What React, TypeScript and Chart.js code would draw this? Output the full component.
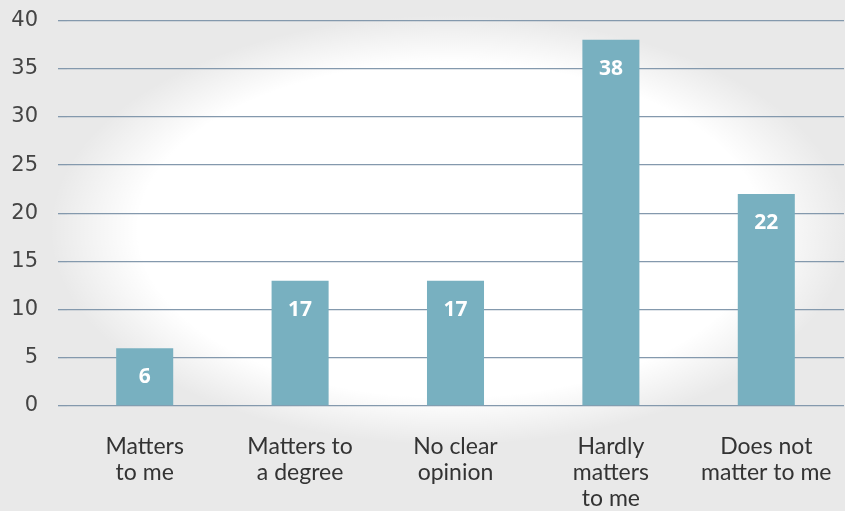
import React, { useEffect, useRef } from "react";
import { Chart, registerables } from "chart.js";

Chart.register(...registerables);

const categories: string[][] = [
  ["Matters", "to me"],
  ["Matters to", "a degree"],
  ["No clear", "opinion"],
  ["Hardly", "matters", "to me"],
  ["Does not", "matter to me"],
];
const barHeights = [6, 13, 13, 38, 22];
const valueLabels = ["6", "17", "17", "38", "22"];
const yTicks = [0, 5, 10, 15, 20, 25, 30, 35, 40];

const valuePlugin = {
  id: "valueLabels",
  afterDatasetsDraw(chart: any) {
    const ctx = chart.ctx;
    const meta = chart.getDatasetMeta(0);
    ctx.save();
    ctx.fillStyle = "#ffffff";
    ctx.font = "bold 21px 'Open Sans'";
    ctx.textAlign = "center";
    ctx.textBaseline = "middle";
    meta.data.forEach((bar: any, i: number) => {
      ctx.fillText(valueLabels[i], bar.x, bar.y + 29);
    });
    ctx.restore();
  },
};

export default function App() {
  const ref = useRef<HTMLCanvasElement>(null);
  useEffect(() => {
    if (!ref.current) return;
    const chart = new Chart(ref.current, {
      type: "bar",
      data: {
        labels: categories,
        datasets: [
          {
            data: barHeights,
            backgroundColor: "#78b0c0",
            categoryPercentage: 1,
            barPercentage: 0.367,
          },
        ],
      },
      options: {
        animation: false,
        responsive: false,
        maintainAspectRatio: false,
        layout: { padding: { top: 0, right: 1, left: 0, bottom: 0 } },
        plugins: { legend: { display: false }, tooltip: { enabled: false } },
        scales: {
          x: {
            grid: { display: false },
            border: { display: false },
            afterFit(axis: any) {
              axis.height = 105;
              axis.paddingLeft = 0;
              axis.paddingRight = 0;
            },
            ticks: {
              color: "#333333",
              font: { family: "Lato", size: 23, lineHeight: 1.13 },
              padding: 20,
              maxRotation: 0,
              autoSkip: false,
            },
          },
          y: {
            min: 0,
            max: 40,
            afterBuildTicks(axis: any) {
              axis.ticks = yTicks.map((v) => ({ value: v }));
            },
            afterFit(axis: any) {
              axis.width = 67;
            },
            grid: {
              color: "#8499ad",
              lineWidth: 1.3,
              tickLength: 9,
              drawTicks: true,
            },
            border: { display: false },
            ticks: {
              color: "#444444",
              font: { family: "DejaVu Sans", size: 21 },
              padding: 20,
            },
          },
        },
      },
      plugins: [valuePlugin],
    });
    return () => chart.destroy();
  }, []);
  return (
    <div
      style={{
        position: "fixed",
        left: 0,
        top: 0,
        width: 845,
        height: 511,
        overflow: "hidden",
        background:
          "radial-gradient(ellipse 400px 215px at 450px 230px, #ffffff 0%, #ffffff 78%, rgba(255,255,255,0) 100%), #e9e9e9",
      }}
    >
      <canvas
        ref={ref}
        width={845}
        height={523}
        style={{ display: "block", marginTop: -12 }}
      />
    </div>
  );
}
